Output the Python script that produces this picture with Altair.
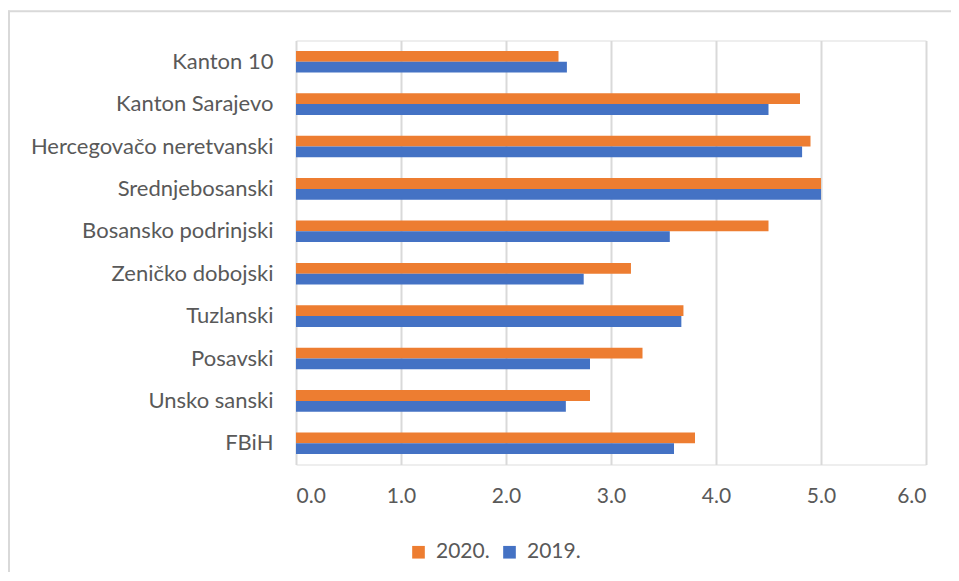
import altair as alt
import pandas as pd

regions = ["Kanton 10", "Kanton Sarajevo", "Hercegovačo neretvanski", "Srednjebosanski",
           "Bosansko podrinjski", "Zeničko dobojski", "Tuzlanski", "Posavski",
           "Unsko sanski", "FBiH"]
years = ["2020.", "2019."]
values_2020 = [2.50, 4.80, 4.90, 5.00, 4.50, 3.19, 3.69, 3.30, 2.80, 3.80]
values_2019 = [2.58, 4.50, 4.82, 5.00, 3.56, 2.74, 3.67, 2.80, 2.57, 3.60]
x_ticks = [0, 1, 2, 3, 4, 5, 6]
colors = ["#ED7D31", "#4472C4"]

rows = []
for r, a, b in zip(regions, values_2020, values_2019):
    rows.append({"region": r, "year": years[0], "value": a})
    rows.append({"region": r, "year": years[1], "value": b})
df = pd.DataFrame(rows)

FONT = "Lato"
GRAY = "#595959"
GRID = "#d9d9d9"

bars = alt.Chart(df).mark_bar().encode(
    y=alt.Y("region:N", sort=regions,
            scale=alt.Scale(paddingInner=0.49, paddingOuter=0.245),
            axis=alt.Axis(title=None, ticks=False, domain=False, grid=False,
                          labelPadding=23, labelFontSize=22, labelFont=FONT,
                          labelColor=GRAY, labelLimit=400)),
    x=alt.X("value:Q", scale=alt.Scale(domain=[0, 6], nice=False),
            axis=alt.Axis(title=None, values=x_ticks, format=".1f", ticks=False,
                          domain=False, grid=True, gridColor=GRID, gridWidth=2,
                          labelPadding=21, labelFontSize=21, labelFont=FONT,
                          labelColor=GRAY)),
    yOffset=alt.YOffset("year:N", sort=years),
    color=alt.Color("year:N", scale=alt.Scale(domain=years, range=colors),
                    legend=alt.Legend(title=None, orient="none", direction="horizontal",
                                      legendX=112, legendY=501, symbolType="square",
                                      symbolSize=160, symbolStrokeWidth=0,
                                      labelFontSize=21, labelFont=FONT, labelColor=GRAY,
                                      labelOffset=7, columnPadding=9, padding=0)),
)

frame_df = pd.DataFrame({"k": [0]})
top_line = alt.Chart(frame_df).mark_rule(color=GRID, strokeWidth=2).encode(
    x=alt.value(-288), x2=alt.value(655), y=alt.value(-29.2))
left_line = alt.Chart(frame_df).mark_rule(color=GRID, strokeWidth=2).encode(
    x=alt.value(-287), y=alt.value(-30), y2=alt.value(532))

chart = alt.layer(top_line, left_line, bars).properties(
    width=630, height=424,
    autosize=alt.AutoSizeParams(type="none"),
    padding={"left": 288, "top": 32.5, "right": 25, "bottom": 107},
).configure_view(stroke=None).configure(background="white")

chart.save("out.html", embed_options={"renderer": "svg", "actions": False})
